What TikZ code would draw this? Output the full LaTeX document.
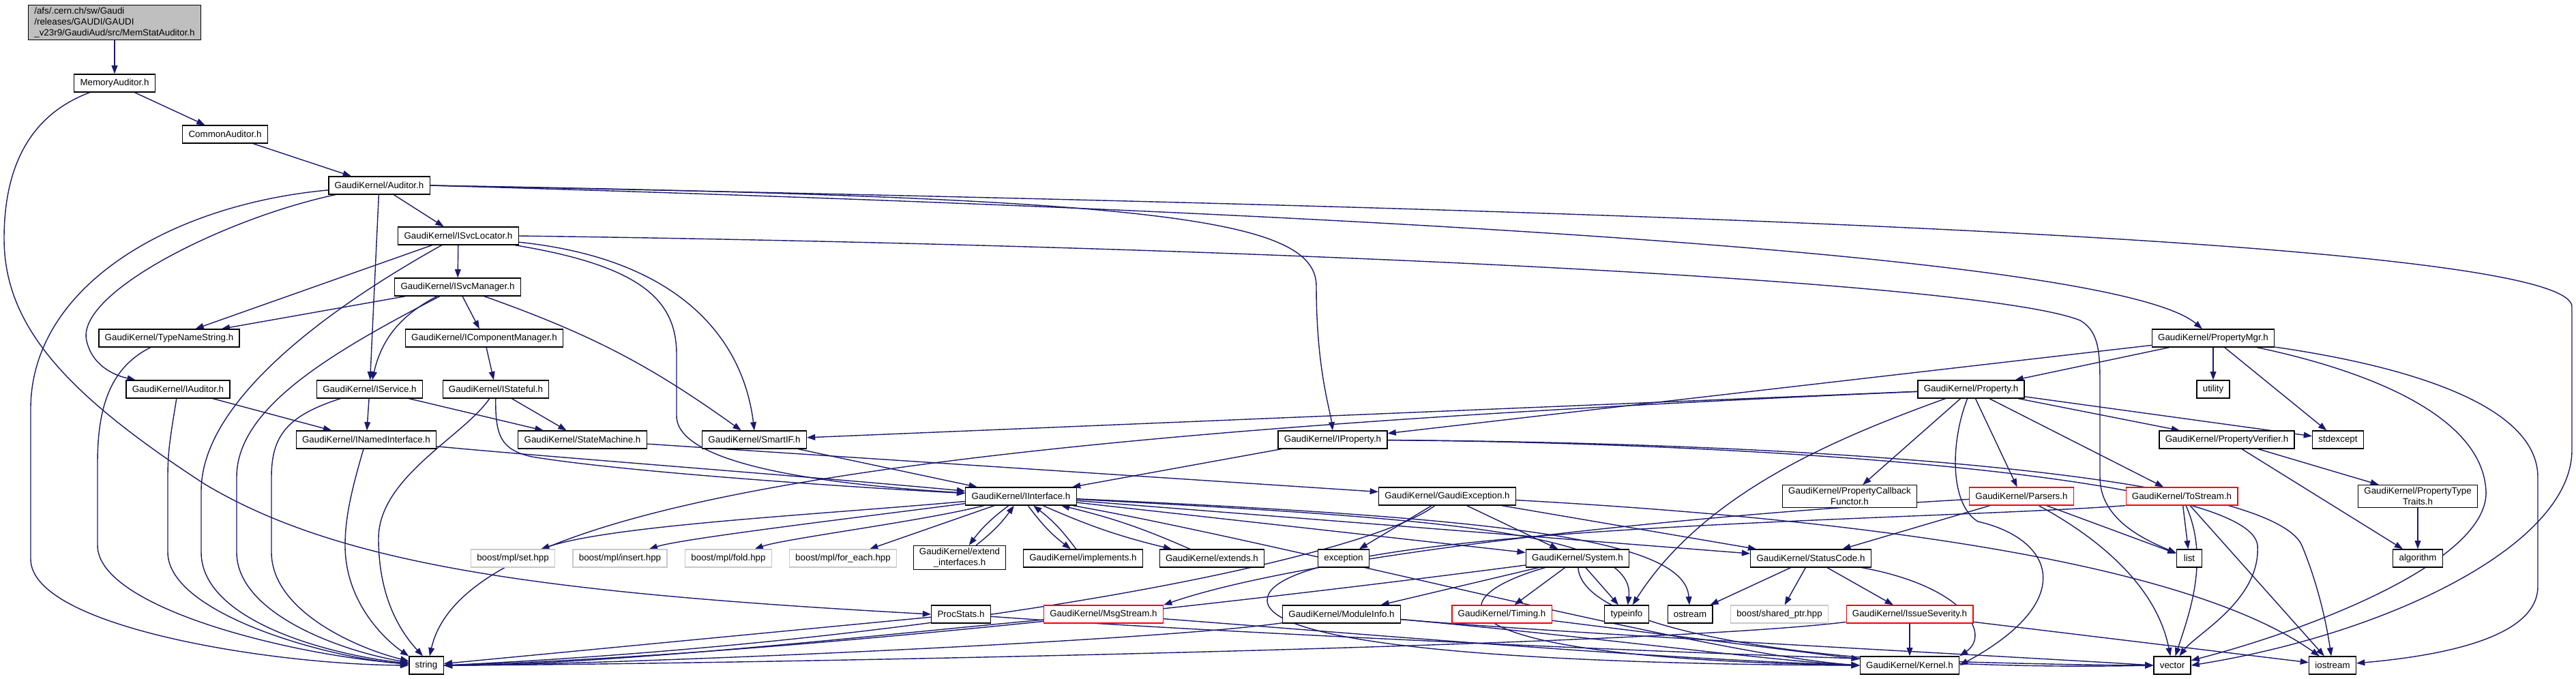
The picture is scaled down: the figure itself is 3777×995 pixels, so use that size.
\documentclass[tikz,border=0pt]{standalone}
\usepackage{fontspec}
\setmainfont{Liberation Sans}
\usetikzlibrary{arrows.meta,backgrounds}

\definecolor{edgeblue}{RGB}{25,25,112}
\definecolor{rootgray}{RGB}{191,191,191}
\definecolor{sysgray}{RGB}{200,200,200}
\newcommand{\graphfont}{\fontsize{7.6}{9}\selectfont}

\begin{document}
\begin{tikzpicture}[
    x=0.02cm, y=-0.02cm,
    file/.style={
        rectangle,
        draw=black,
        fill=white,
        line width=0.7pt,
        minimum height=0.52cm,
        minimum width=0.75cm,
        inner xsep=5pt,
        inner ysep=2pt,
        align=center,
        font=\graphfont
    },
    rootfile/.style={
        file,
        fill=rootgray,
        align=left
    },
    cutfile/.style={
        file,
        draw=red
    },
    sysfile/.style={
        file,
        draw=sysgray
    },
    dep/.style={
        ->,
        >={Stealth[inset=0pt,length=7pt,width=5pt]},
        draw=edgeblue,
        line width=0.8pt
    }
]
\useasboundingbox (0,0) rectangle (3777,995);

% Fichiers de l'auditeur
\node[rootfile] (root) at (168,33) {/afs/.cern.ch/sw/Gaudi\\/releases/GAUDI/GAUDI\\\_v23r9/GaudiAud/src/MemStatAuditor.h};
\node[file] (memaud) at (168,122) {MemoryAuditor.h};
\node[file] (comaud) at (330,197) {CommonAuditor.h};
\node[file] (auditor) at (556,272) {GaudiKernel/Auditor.h};

% Services
\node[file] (isvcloc) at (672,346) {GaudiKernel/ISvcLocator.h};
\node[file] (isvcmgr) at (671,421) {GaudiKernel/ISvcManager.h};
\node[file] (typename) at (248,496) {GaudiKernel/TypeNameString.h};
\node[file] (icompmgr) at (710,496) {GaudiKernel/IComponentManager.h};
\node[file] (iauditor) at (261,571) {GaudiKernel/IAuditor.h};
\node[file] (iservice) at (542,571) {GaudiKernel/IService.h};
\node[file] (istateful) at (727,571) {GaudiKernel/IStateful.h};
\node[file] (inamed) at (537,645) {GaudiKernel/INamedInterface.h};
\node[file] (statemach) at (854,645) {GaudiKernel/StateMachine.h};
\node[file] (smartif) at (1106,645) {GaudiKernel/SmartIF.h};

% Proprietes
\node[file] (propmgr) at (3245,496) {GaudiKernel/PropertyMgr.h};
\node[file] (property) at (2890,571) {GaudiKernel/Property.h};
\node[file] (utility) at (3245,571) {utility};
\node[file] (iproperty) at (1954,645) {GaudiKernel/IProperty.h};
\node[file] (propverif) at (3265,645) {GaudiKernel/PropertyVerifier.h};
\node[file] (stdexcept) at (3428,645) {stdexcept};
\node[file] (propcb) at (2712,728) {GaudiKernel/PropertyCallback\\Functor.h};
\node[cutfile] (parsers) at (2964,728) {GaudiKernel/Parsers.h};
\node[cutfile] (tostream) at (3199,728) {GaudiKernel/ToStream.h};
\node[file] (proptraits) at (3545,728) {GaudiKernel/PropertyType\\Traits.h};

% Interfaces
\node[file] (iinterface) at (1497,728) {GaudiKernel/IInterface.h};
\node[file] (gaudiexc) at (2122,728) {GaudiKernel/GaudiException.h};
\node[sysfile] (mplset) at (752,819) {boost/mpl/set.hpp};
\node[sysfile] (mplinsert) at (909,819) {boost/mpl/insert.hpp};
\node[sysfile] (mplfold) at (1068,819) {boost/mpl/fold.hpp};
\node[sysfile] (mplforeach) at (1236,819) {boost/mpl/for\_each.hpp};
\node[file] (extendif) at (1407,818) {GaudiKernel/extend\\\_interfaces.h};
\node[file] (implements) at (1588,819) {GaudiKernel/implements.h};
\node[file] (extends) at (1777,819) {GaudiKernel/extends.h};
\node[file] (exception) at (1970,819) {exception};
\node[file] (system) at (2313,819) {GaudiKernel/System.h};
\node[file] (statuscode) at (2655,819) {GaudiKernel/StatusCode.h};
\node[file] (list) at (3210,819) {list};
\node[file] (algorithm) at (3545,819) {algorithm};

% Niveau du bas
\node[file] (procstats) at (1409,901) {ProcStats.h};
\node[cutfile] (msgstream) at (1618,901) {GaudiKernel/MsgStream.h};
\node[file] (moduleinfo) at (1967,901) {GaudiKernel/ModuleInfo.h};
\node[cutfile] (timing) at (2202,901) {GaudiKernel/Timing.h};
\node[file] (typeinfo) at (2385,901) {typeinfo};
\node[file] (ostream) at (2478,901) {ostream};
\node[sysfile] (sharedptr) at (2609,901) {boost/shared\_ptr.hpp};
\node[cutfile] (issuesev) at (2800,901) {GaudiKernel/IssueSeverity.h};
\node[file] (string) at (625,976) {string};
\node[file] (kernel) at (2800,976) {GaudiKernel/Kernel.h};
\node[file] (vector) at (3185,976) {vector};
\node[file] (iostream) at (3420,976) {iostream};

\begin{pgfonlayer}{background}
% Chaine principale
\draw[dep] (root) -- (memaud);
\draw[dep] (memaud) -- (comaud);
\draw[dep] (comaud) -- (auditor);
\draw[dep] (memaud) .. controls (40,170) and (6,250) .. (6,350) .. controls (6,480) and (100,580) .. (300,710) .. controls (500,830) and (800,870) .. (procstats.west);

% Auditor.h
\draw[dep] (auditor) -- (isvcloc);
\draw[dep] (auditor) -- (iservice);
\draw[dep] (auditor) .. controls (330,320) and (110,430) .. (127,500) .. controls (135,535) and (165,550) .. (iauditor);
\draw[dep] (auditor) .. controls (250,300) and (45,420) .. (45,600) -- (45,820) .. controls (45,920) and (400,975) .. (string);
\draw[dep] (auditor.east) .. controls (1700,290) and (1930,320) .. (1930,420) .. controls (1930,540) and (1950,600) .. (iproperty.north);
\draw[dep] (auditor.east) .. controls (2300,320) and (3120,390) .. (propmgr);
\draw[dep] (auditor.east) .. controls (2000,300) and (3771,340) .. (3771,450) -- (3771,660) .. controls (3771,800) and (3500,930) .. (vector.east);

% ISvcLocator.h
\draw[dep] (isvcloc) -- (isvcmgr);
\draw[dep] (isvcloc) -- (typename);
\draw[dep] (isvcloc) .. controls (450,470) and (295,600) .. (295,720) -- (295,810) .. controls (295,910) and (480,960) .. (string);
\draw[dep] (isvcloc) .. controls (940,390) and (992,440) .. (992,520) -- (992,610) .. controls (992,680) and (1200,710) .. (iinterface);
\draw[dep] (isvcloc) .. controls (1000,380) and (1090,500) .. (smartif.north);
\draw[dep] (isvcloc.east) .. controls (1800,360) and (2900,410) .. (3050,470) .. controls (3075,485) and (3079,510) .. (3079,560) -- (3079,700) .. controls (3079,760) and (3140,790) .. (list);

% ISvcManager.h
\draw[dep] (isvcmgr) -- (typename);
\draw[dep] (isvcmgr) -- (icompmgr);
\draw[dep] (isvcmgr) to[bend right=25] (iservice);
\draw[dep] (isvcmgr) to[bend left=8] (smartif);
\draw[dep] (isvcmgr) .. controls (480,520) and (347,600) .. (347,700) -- (347,810) .. controls (347,900) and (500,955) .. (string);
\draw[dep] (icompmgr) -- (istateful);

% IStateful.h, IService.h, IAuditor.h
\draw[dep] (istateful) -- (statemach);
\draw[dep] (istateful) .. controls (726,640) and (735,660) .. (780,670) .. controls (900,690) and (1200,712) .. (iinterface);
\draw[dep] (istateful) .. controls (680,640) and (555,700) .. (555,790) .. controls (555,880) and (590,930) .. (string.110);
\draw[dep] (iservice) -- (inamed);
\draw[dep] (iservice) -- (statemach);
\draw[dep] (iservice) .. controls (420,610) and (398,640) .. (398,700) -- (398,810) .. controls (398,895) and (520,950) .. (string);
\draw[dep] (iauditor) -- (inamed);
\draw[dep] (iauditor) .. controls (250,640) and (246,660) .. (246,700) -- (246,810) .. controls (246,900) and (480,965) .. (string);
\draw[dep] (inamed) .. controls (800,670) and (1200,700) .. (iinterface);
\draw[dep] (inamed) .. controls (515,720) and (506,760) .. (506,800) .. controls (506,880) and (560,935) .. (string.north west);
\draw[dep] (typename) .. controls (160,540) and (143,600) .. (143,680) -- (143,800) .. controls (143,890) and (420,960) .. (string);
\draw[dep] (statemach) -- (gaudiexc);
\draw[dep] (smartif) -- (iinterface);

% IProperty.h, PropertyMgr.h, Property.h
\draw[dep] (iproperty) -- (iinterface);
\draw[dep] (iproperty) .. controls (2600,650) and (3300,700) .. (3310,800) .. controls (3315,880) and (3220,930) .. (vector);
\draw[dep] (iproperty) .. controls (2700,650) and (3330,700) .. (3375,800) .. controls (3400,860) and (3412,920) .. (iostream);
\draw[dep] (propmgr) -- (property);
\draw[dep] (propmgr) -- (iproperty);
\draw[dep] (propmgr) -- (utility);
\draw[dep] (propmgr) -- (stdexcept);
\draw[dep] (propmgr) .. controls (3500,550) and (3640,620) .. (3645,720) .. controls (3650,820) and (3400,920) .. (vector);
\draw[dep] (propmgr) .. controls (3550,540) and (3721,600) .. (3721,700) -- (3721,860) .. controls (3721,930) and (3600,960) .. (iostream);
\draw[dep] (property) -- (smartif);
\draw[dep] (property) .. controls (1300,640) and (680,740) .. (string.70);
\draw[dep] (property) -- (stdexcept);
\draw[dep] (property) -- (propverif);
\draw[dep] (property) .. controls (2700,640) and (2500,720) .. (typeinfo);
\draw[dep] (property) -- (propcb);
\draw[dep] (property) -- (parsers);
\draw[dep] (property) -- (tostream);
\draw[dep] (property) .. controls (2859,650) and (2859,740) .. (2900,765) .. controls (3010,790) and (3050,880) .. (kernel.east);
\draw[dep] (propverif) -- (proptraits);
\draw[dep] (propverif) -- (algorithm);
\draw[dep] (proptraits) -- (algorithm);

% Parsers.h, ToStream.h
\draw[dep] (parsers) -- (statuscode);
\draw[dep] (parsers) -- (list);
\draw[dep] (parsers) .. controls (3060,780) and (3160,850) .. (vector);
\draw[dep] (parsers) .. controls (2400,760) and (1900,820) .. (msgstream.north east);
\draw[dep] (tostream) -- (list);
\draw[dep] (tostream) .. controls (3240,820) and (3210,900) .. (vector);
\draw[dep] (tostream) -- (iostream);
\draw[dep] (tostream.south west) .. controls (2800,765) and (1860,770) .. (1858,880) .. controls (1856,960) and (2400,975) .. (kernel.west);

% IInterface.h
\draw[dep] (iinterface) .. controls (1200,755) and (900,770) .. (mplset);
\draw[dep] (iinterface) .. controls (1250,760) and (1000,790) .. (mplinsert);
\draw[dep] (iinterface) .. controls (1350,765) and (1150,790) .. (mplfold);
\draw[dep] (iinterface) -- (mplforeach);
\draw[dep] (iinterface) to[bend right=8] (extendif);
\draw[dep] (extendif) to[bend right=8] (iinterface);
\draw[dep] (iinterface) to[bend right=8] (implements);
\draw[dep] (implements) to[bend right=8] (iinterface);
\draw[dep] (iinterface) to[bend right=5] (extends);
\draw[dep] (extends) to[bend right=5] (iinterface);
\draw[dep] (iinterface) -- (system);
\draw[dep] (iinterface) -- (statuscode);
\draw[dep] (iinterface) .. controls (2100,760) and (2400,780) .. (typeinfo);
\draw[dep] (iinterface) .. controls (2200,760) and (2470,790) .. (ostream);
\draw[dep] (iinterface) .. controls (1900,800) and (2500,960) .. (kernel.west);

% GaudiException.h, System.h
\draw[dep] (gaudiexc) -- (exception);
\draw[dep] (gaudiexc) -- (system);
\draw[dep] (gaudiexc) -- (statuscode);
\draw[dep] (gaudiexc) .. controls (2700,760) and (3200,820) .. (iostream);
\draw[dep] (gaudiexc) .. controls (2000,820) and (1400,940) .. (string.east);
\draw[dep] (system) -- (moduleinfo);
\draw[dep] (system) -- (timing);
\draw[dep] (system) -- (typeinfo);
\draw[dep] (system) .. controls (2100,880) and (2100,965) .. (kernel.west);
\draw[dep] (system) .. controls (2320,930) and (2700,985) .. (vector.west);
\draw[dep] (system) .. controls (2000,860) and (1200,960) .. (string.east);

% Niveau du bas
\draw[dep] (moduleinfo) .. controls (2300,930) and (2600,970) .. (kernel.west);
\draw[dep] (moduleinfo) .. controls (2300,930) and (2900,960) .. (vector.west);
\draw[dep] (moduleinfo) .. controls (1700,940) and (900,975) .. (string.east);
\draw[dep] (timing) -- (kernel);
\draw[dep] (statuscode) -- (ostream);
\draw[dep] (statuscode) -- (sharedptr);
\draw[dep] (statuscode) -- (issuesev);
\draw[dep] (statuscode) .. controls (2880,860) and (2920,930) .. (kernel.north east);
\draw[dep] (issuesev) -- (kernel);
\draw[dep] (issuesev) -- (iostream);
\draw[dep] (issuesev) .. controls (2400,950) and (1000,975) .. (string.east);
\draw[dep] (msgstream) .. controls (1300,930) and (900,975) .. (string.east);
\draw[dep] (msgstream) .. controls (2000,930) and (2400,965) .. (kernel.west);
\draw[dep] (procstats) -- (string);
\draw[dep] (procstats) .. controls (1800,930) and (2800,975) .. (vector.west);
\end{pgfonlayer}

\end{tikzpicture}
\end{document}
